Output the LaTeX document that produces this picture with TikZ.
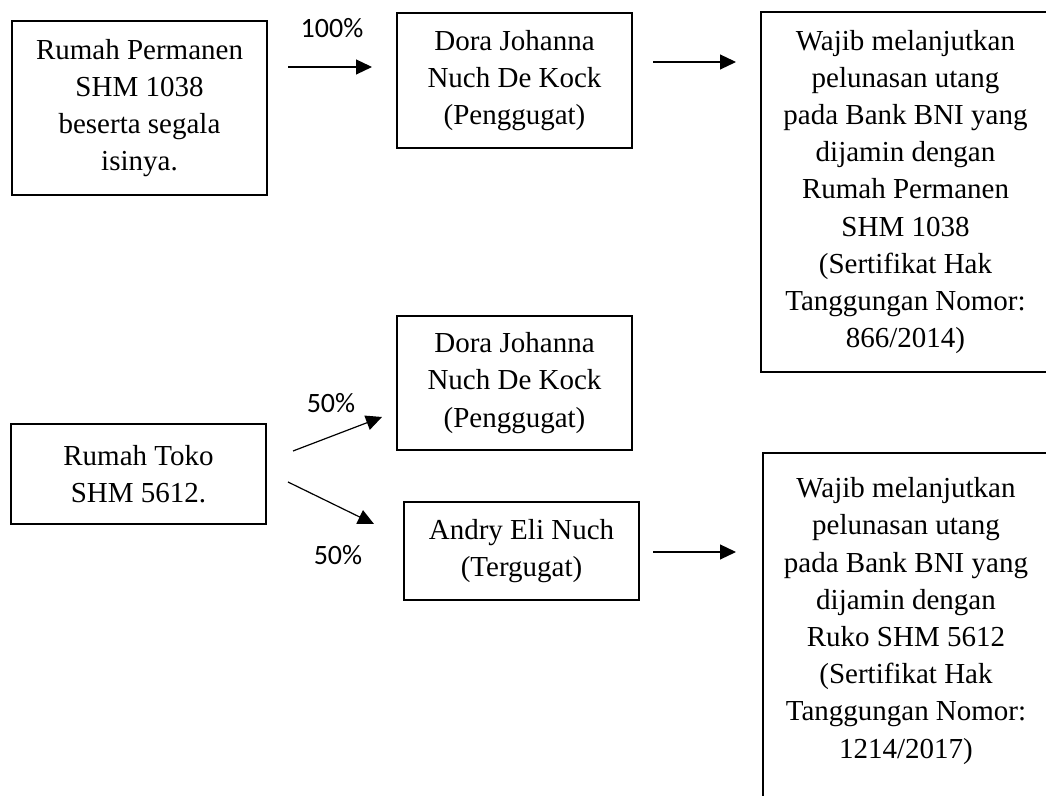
\documentclass[tikz,border=0pt]{standalone}
\usepackage{fontspec}
\setmainfont{Liberation Serif}
\newfontfamily\pctfont{Carlito}
\usetikzlibrary{arrows.meta}

\tikzset{
    box/.style={draw,line width=1.3pt,align=center,inner sep=0pt,font=\fontsize{14.5}{18.6}\selectfont},
    pct/.style={font=\pctfont\fontsize{14}{16}\selectfont},
    arr/.style={-{Triangle[length=8pt,width=7.5pt]},line width=0.6pt}
}

\begin{document}
\begin{tikzpicture}[x=0.5pt,y=-0.5pt]
            \useasboundingbox (0,0) rectangle (1046,796);

            % upper row
            \node[box,minimum width=127.5pt,minimum height=87pt] (rumah) at (139.5,108) {Rumah Permanen\\SHM 1038\\beserta segala\\isinya.};
            \node[box,minimum width=117.5pt,minimum height=67.5pt] (dora1) at (514.5,80.5) {Dora Johanna\\Nuch De Kock\\(Penggugat)};
            \node[box,minimum width=144.5pt,minimum height=180pt] (bni1) at (905.5,192) {Wajib melanjutkan\\pelunasan utang\\pada Bank BNI yang\\dijamin dengan\\Rumah Permanen\\SHM 1038\\(Sertifikat Hak\\Tanggungan Nomor:\\866/2014)};

            \coordinate (a1s) at (288,67);
            \coordinate (a1e) at (372,67);
            \draw[arr] (a1s) -- (a1e);
            \node[pct] (p100) at (332,28) {100\%};

            \coordinate (a2s) at (653,62);
            \coordinate (a2e) at (736,62);
            \draw[arr] (a2s) -- (a2e);

            % lower row
            \node[box,minimum width=127.5pt,minimum height=50pt] (toko) at (138.5,474) {Rumah Toko\\SHM 5612.};
            \node[box,minimum width=117.5pt,minimum height=67pt] (dora2) at (514.5,383) {Dora Johanna\\Nuch De Kock\\(Penggugat)};
            \node[box,minimum width=117.5pt,minimum height=49pt] (andry) at (521.5,551) {Andry Eli Nuch\\(Tergugat)};

            \node[align=center,inner sep=0pt,font=\fontsize{14.5}{18.6}\selectfont] (bni2) at (906,621) {Wajib melanjutkan\\pelunasan utang\\pada Bank BNI yang\\dijamin dengan\\Ruko SHM 5612\\(Sertifikat Hak\\Tanggungan Nomor:\\1214/2017)};
            \draw[line width=1.3pt] (763,453) rectangle (1050,830);

            \coordinate (a3s) at (293,451);
            \coordinate (a3e) at (382,417);
            \draw[arr] (a3s) -- (a3e);
            \node[pct] (p50a) at (331,403) {50\%};

            \coordinate (a4s) at (288,482);
            \coordinate (a4e) at (374,524);
            \draw[arr] (a4s) -- (a4e);
            \node[pct] (p50b) at (338,555) {50\%};

            \coordinate (a5s) at (653,552);
            \coordinate (a5e) at (736,552);
            \draw[arr] (a5s) -- (a5e);
        \end{tikzpicture}
\end{document}
